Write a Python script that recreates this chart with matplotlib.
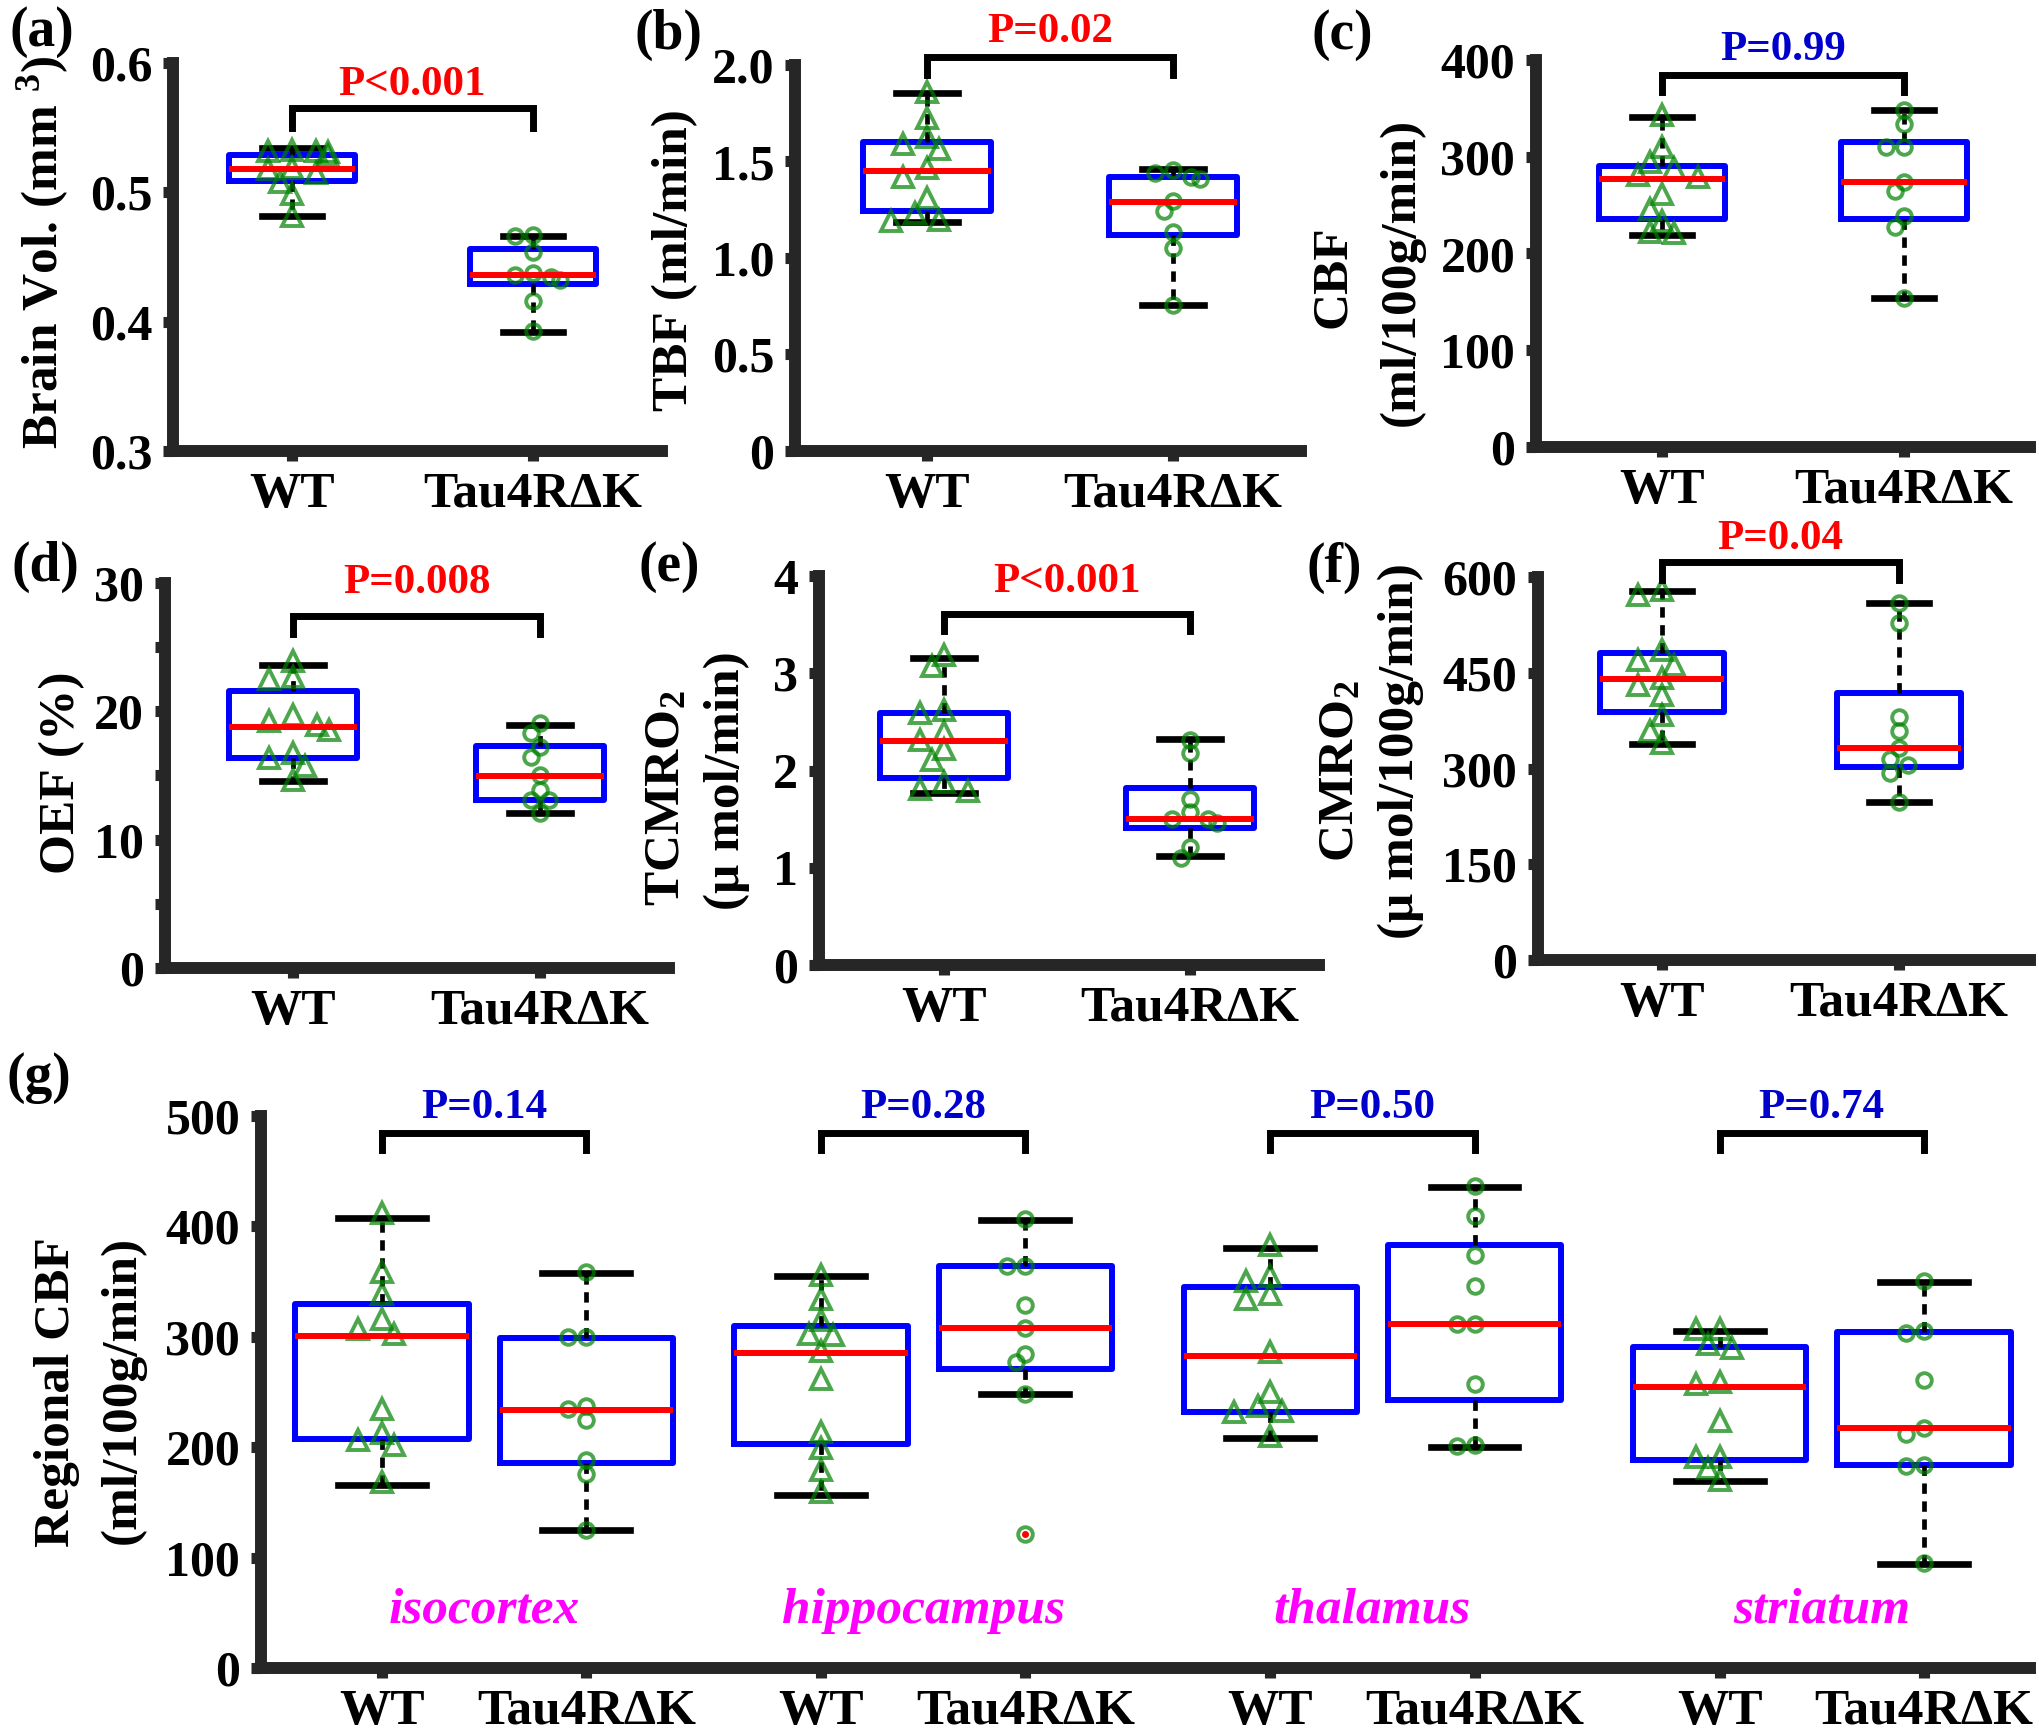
import matplotlib.pyplot as plt
import numpy as np

plt.rcParams['font.family'] = 'Liberation Serif'
plt.rcParams['font.weight'] = 'bold'
plt.rcParams['mathtext.fontset'] = 'custom'
plt.rcParams['mathtext.rm'] = 'Liberation Serif:bold'
plt.rcParams['mathtext.it'] = 'Liberation Serif:bold:italic'
plt.rcParams['mathtext.bf'] = 'Liberation Serif:bold'

W, H = 2040, 1735
groups = ['WT', 'Tau4R\u0394K']

# ---- data ----
# box stats: [q1, median, q3, lower whisker, upper whisker]
vol_wt = [0.533, 0.532, 0.532, 0.531, 0.528, 0.519, 0.518, 0.515, 0.508, 0.499, 0.482]
vol_tau = [0.467, 0.466, 0.454, 0.4375, 0.4357, 0.4344, 0.4323, 0.416, 0.393]
vol_box_wt = [0.509, 0.518, 0.529, 0.482, 0.534]
vol_box_tau = [0.429, 0.436, 0.456, 0.392, 0.466]

tbf_wt = [1.86, 1.724, 1.628, 1.59, 1.563, 1.465, 1.421, 1.309, 1.231, 1.197, 1.194]
tbf_tau = [1.456, 1.442, 1.421, 1.408, 1.295, 1.245, 1.136, 1.05, 0.756]
tbf_box_wt = [1.245, 1.452, 1.603, 1.185, 1.853]
tbf_box_tau = [1.119, 1.292, 1.421, 0.756, 1.46]

cbf_wt = [343, 310, 294.7, 288, 281, 279, 262, 246.5, 234, 222, 220.7]
cbf_tau = [348, 333.7, 310, 310, 274, 264.7, 238.6, 227.5, 153.5]
cbf_box_wt = [236, 277, 290, 219, 341]
cbf_box_tau = [235.5, 273.4, 315.4, 153.5, 348]

oef_wt = [23.9, 22.5, 22.65, 19.74, 19.22, 18.96, 18.57, 16.37, 16.76, 15.71, 14.68]
oef_tau = [19.09, 18.31, 17.19, 16.44, 15.07, 13.9, 13.12, 13.12, 12.08]
oef_box_wt = [16.37, 18.78, 21.56, 14.55, 23.64]
oef_box_tau = [13.12, 14.99, 17.33, 12.08, 18.96]

tcmro_wt = [3.186, 3.073, 2.621, 2.593, 2.398, 2.312, 2.217, 2.107, 1.884, 1.791, 1.805]
tcmro_tau = [2.312, 2.176, 1.706, 1.576, 1.5, 1.5, 1.456, 1.216, 1.097]
tcmro_box_wt = [1.919, 2.302, 2.593, 1.77, 3.158]
tcmro_box_tau = [1.405, 1.5, 1.822, 1.12, 2.32]

cmro_wt = [571.5, 579.3, 485.4, 469.7, 461.9, 441, 430.6, 414.9, 383.6, 358.6, 339.3]
cmro_tau = [559.4, 527.2, 381, 359, 332.5, 314.2, 305.3, 293.3, 247.9]
cmro_box_wt = [388.8, 440, 481.2, 337.7, 578.3]
cmro_box_tau = [302.7, 332.5, 417.6, 247.9, 560]

regions = ['isocortex', 'hippocampus', 'thalamus', 'striatum']
reg_wt = [
    [412.5, 358.8, 338.5, 302.7, 307.4, 316, 234.2, 213.2, 202.3, 206.2, 168.1],
    [356, 334.6, 315.2, 302.7, 301.6, 287.2, 261.9, 214, 199.2, 179.8, 159.5],
    [383.3, 350.2, 354.9, 334.6, 338.5, 286, 249.8, 232.7, 237.4, 231.5, 210.1],
    [307.4, 307.4, 293.8, 289.9, 257.6, 259.5, 223.7, 190.7, 190.7, 181, 170.4],
]
reg_tau = [
    [358.8, 299.6, 299.6, 237.4, 225, 234.2, 188.7, 175.9, 125.3],
    [406.6, 363.8, 363.8, 328.8, 308.2, 284.8, 277, 247.9, 121.4],
    [436.6, 409.7, 374.3, 346.3, 311.3, 312, 257.6, 202.3, 201.2],
    [350.2, 305.4, 303.5, 260.7, 217.1, 212.1, 182.9, 184, 95.3],
]
reg_box_wt = [
    [207, 300.8, 330, 166, 407.8],
    [203, 285.2, 310, 156.8, 355.3],
    [231.5, 282.9, 345.5, 208.2, 380.5],
    [188.7, 254.9, 291, 169.3, 305.4],
]
reg_box_tau = [
    [185.6, 233.5, 298.8, 125.3, 358],
    [270.4, 308.2, 363.8, 247.9, 405.4],
    [243.2, 311.9, 383.3, 200.4, 435.8],
    [183.7, 217.5, 304.7, 94.6, 349.4],
]
reg_outliers_tau = [[], [121.4], [], []]
reg_pvals = ['P=0.14', 'P=0.28', 'P=0.50', 'P=0.74']

RED = '#ff0000'
BLUE = '#0000cd'
AXC = '#262626'
PTC = (0.0, 0.5, 0.0, 0.7)

fig = plt.figure(figsize=(W / 100, H / 100), dpi=100)


def px_axes(l, r, t, b):
    return fig.add_axes([l / W, 1 - b / H, (r - l) / W, (b - t) / H])


def style(ax, yticks, ylabels, ylim, xticks, xlabels):
    for s in ['top', 'right']:
        ax.spines[s].set_visible(False)
    for s in ['left', 'bottom']:
        ax.spines[s].set_linewidth(8.6)
        ax.spines[s].set_color(AXC)
        ax.spines[s].set_capstyle('projecting')
    ax.set_ylim(ylim)
    ax.set_yticks(yticks)
    ax.set_yticklabels(ylabels)
    ax.set_xticks(xticks)
    ax.set_xticklabels(xlabels)
    ax.tick_params(direction='out', length=7, width=8, color=AXC, labelsize=36, pad=8)
    ax.tick_params(axis='x', labelsize=37)
    ax.patch.set_alpha(0)


def swarm(ax, x0, vals, size_px):
    vals = np.asarray(vals, float)
    pts = ax.transData.transform(np.column_stack([np.full(len(vals), x0), vals]))
    ys = pts[:, 1]
    placed = []
    xs = np.zeros(len(vals))
    for i in np.argsort(-ys):
        dx = 0
        for k in [0, -1, 1, -2, 2, -3, 3]:
            dx = k * size_px * 0.6
            if all(np.hypot(dx - px, ys[i] - py) >= size_px * 0.8 for px, py in placed):
                break
        placed.append((dx, ys[i]))
        xs[i] = pts[i, 0] + dx
    return ax.transData.inverted().transform(np.column_stack([xs, ys]))[:, 0]


def boxes(ax, pos, box_list, fliers, width, capw):
    stats = []
    for b, fl in zip(box_list, fliers):
        stats.append(dict(q1=b[0], med=b[1], q3=b[2], whislo=b[3], whishi=b[4], fliers=fl))
    ax.bxp(stats, positions=pos, widths=width, capwidths=capw, showfliers=True,
           manage_ticks=False,
           boxprops=dict(color='#0000ff', lw=4.3),
           medianprops=dict(color=RED, lw=4.3),
           whiskerprops=dict(color='black', lw=3.4, ls=(0, (2.2, 1.6))),
           capprops=dict(color='black', lw=4.8),
           flierprops=dict(marker='o', mfc=RED, mec=RED, ms=4))


def points(ax, pos, wt, tau):
    ax.plot(swarm(ax, pos[0], wt, 20), wt, ls='none', marker='^', mfc='none',
            mec=PTC, mew=2.8, ms=14.5)
    ax.plot(swarm(ax, pos[1], tau, 15), tau, ls='none', marker='o', mfc='none',
            mec=PTC, mew=2.8, ms=10.5)


def bracket(ax, x1, x2, leg, top):
    ax.plot([x1, x1, x2, x2], [leg, top, top, leg], color='black', lw=5,
            solid_joinstyle='miter', clip_on=False)


def ptext(ax, x, y, txt, color):
    ax.text(x, y, txt, ha='center', va='center', color=color, fontsize=31,
            fontweight='bold', clip_on=False)


def ftext(x, y, txt, **kw):
    fig.text(x / W, 1 - y / H, txt, ha='center', va='center', **kw)


# ---- six two-group panels ----
panels = [
    # pixel box (l, r, t, b), wt/tau tick px, ylim, ticks, bracket (leg, top, text y)
    dict(box=(173, 662, 63, 451), xt=(292, 533), ylim=(0.3, 0.6),
         yt=[0.3, 0.4, 0.5, 0.6], yl=['0.3', '0.4', '0.5', '0.6'],
         wt=vol_wt, tau=vol_tau, bw=vol_box_wt, bt=vol_box_tau,
         br=(0.55, 0.565, 0.583), p='P<0.001', pc=RED),
    dict(box=(795, 1301, 65, 451), xt=(927, 1173), ylim=(0, 2.0),
         yt=[0, 0.5, 1.0, 1.5, 2.0], yl=['0', '0.5', '1.0', '1.5', '2.0'],
         wt=tbf_wt, tau=tbf_tau, bw=tbf_box_wt, bt=tbf_box_tau,
         br=(1.95, 2.04, 2.17), p='P=0.02', pc=RED),
    dict(box=(1536, 2030, 60, 447), xt=(1662, 1904), ylim=(0, 400),
         yt=[0, 100, 200, 300, 400], yl=['0', '100', '200', '300', '400'],
         wt=cbf_wt, tau=cbf_tau, bw=cbf_box_wt, bt=cbf_box_tau,
         br=(367, 384, 410), p='P=0.99', pc=BLUE),
    dict(box=(165, 669, 583, 968), xt=(293, 540), ylim=(0, 30),
         yt=[0, 10, 20, 30], yl=['0', '10', '20', '30'],
         wt=oef_wt, tau=oef_tau, bw=oef_box_wt, bt=oef_box_tau,
         br=(26, 27.4, 30.0), p='P=0.008', pc=RED),
    dict(box=(819, 1319, 576, 965), xt=(944, 1190), ylim=(0, 4),
         yt=[0, 1, 2, 3, 4], yl=['0', '1', '2', '3', '4'],
         wt=tcmro_wt, tau=tcmro_tau, bw=tcmro_box_wt, bt=tcmro_box_tau,
         br=(3.43, 3.61, 3.94), p='P<0.001', pc=RED),
    dict(box=(1538, 2030, 577, 960), xt=(1662, 1899), ylim=(0, 600),
         yt=[0, 150, 300, 450, 600], yl=['0', '150', '300', '450', '600'],
         wt=cmro_wt, tau=cmro_tau, bw=cmro_box_wt, bt=cmro_box_tau,
         br=(595, 623.6, 660), p='P=0.04', pc=RED),
]

for i, p in enumerate(panels):
    l, r, t, b = p['box']
    ax = px_axes(l, r, t, b)
    u = p['xt'][1] - p['xt'][0]
    ax.set_xlim(1 - (p['xt'][0] - l) / u, 2 + (r - p['xt'][1]) / u)
    style(ax, p['yt'], p['yl'], p['ylim'], [1, 2], groups)
    if i == 3:
        ax.set_yticks([5, 15, 25], minor=True)
        ax.tick_params(which='minor', direction='out', length=7, width=8, color=AXC)
    boxes(ax, [1, 2], [p['bw'], p['bt']], [[], []], 0.52, 0.25)
    points(ax, [1, 2], p['wt'], p['tau'])
    leg, top, ty = p['br']
    bracket(ax, 1, 2, leg, top)
    ptext(ax, 1.5, ty, p['p'], p['pc'])

# ---- regional panel (g) ----
gpos = [1, 2, 3.15, 4.15, 5.35, 6.35, 7.55, 8.55]
axg = px_axes(261, 2030, 1116, 1668)
axg.set_xlim(0.407, 9.07)
style(axg, [0, 100, 200, 300, 400, 500], ['0', '100', '200', '300', '400', '500'],
      (0, 500), gpos, groups * 4)
for k in range(4):
    pos = gpos[2 * k:2 * k + 2]
    boxes(axg, pos, [reg_box_wt[k], reg_box_tau[k]], [[], reg_outliers_tau[k]], 0.85, 0.43)
    points(axg, pos, reg_wt[k], reg_tau[k])
    bracket(axg, pos[0], pos[1], 469, 485)
    ptext(axg, (pos[0] + pos[1]) / 2, 507, reg_pvals[k], BLUE)
    axg.text((pos[0] + pos[1]) / 2, 52, regions[k], ha='center', va='center',
             color='#ff00ff', fontsize=37, fontstyle='italic', fontweight='bold')

# ---- axis titles and panel letters (pixel positions) ----
ylab = dict(rotation=90, fontsize=37, fontweight='bold')
ftext(43, 252, 'Brain Vol. (mm $^{3}$)', **ylab)
ftext(675, 260, 'TBF (ml/min)', **ylab)
ftext(1333, 277, 'CBF', **ylab)
ftext(1402, 272, '(ml/100g/min)', **ylab)
ftext(62, 773, 'OEF (%)', **ylab)
ftext(667, 798, 'TCMRO$_2$', **ylab)
ftext(727, 781, '(\u03bc mol/min)', **ylab)
ftext(1341, 771, 'CMRO$_2$', **ylab)
ftext(1401, 751, '(\u03bc mol/100g/min)', **ylab)
ftext(57, 1392, 'Regional CBF', **ylab)
ftext(123, 1390, '(ml/100g/min)', **ylab)

letters = ['(a)', '(b)', '(c)', '(d)', '(e)', '(f)', '(g)']
letter_xy = [(42, 32), (669, 35), (1342, 35), (45, 567), (669, 567), (1334, 568), (39, 1078)]
for s, (x, y) in zip(letters, letter_xy):
    ftext(x, y, s, fontsize=40, fontweight='bold')

fig.savefig('out.png', dpi=100)
